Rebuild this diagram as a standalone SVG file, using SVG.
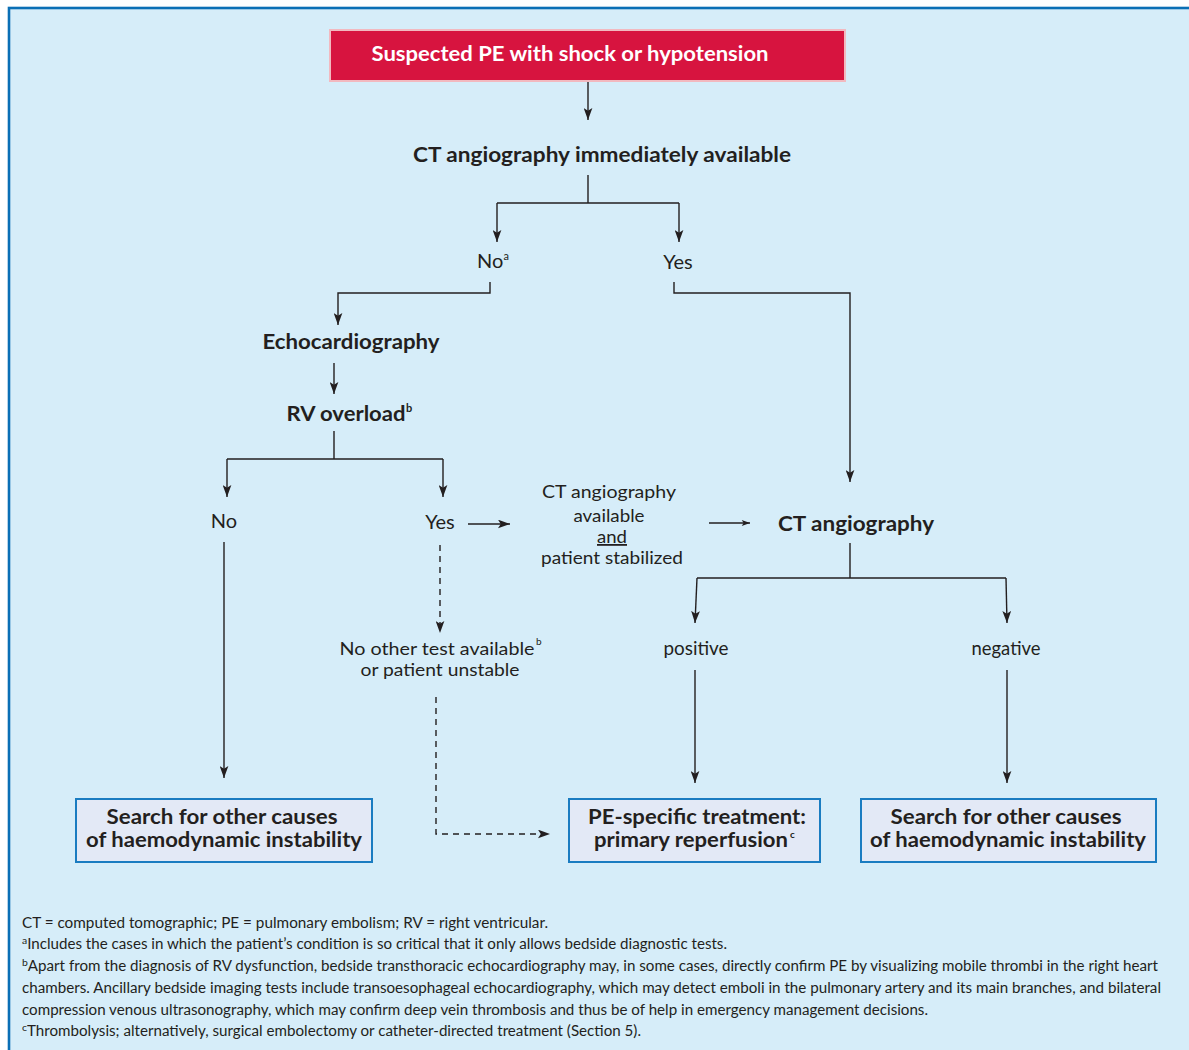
<svg xmlns="http://www.w3.org/2000/svg" width="1189" height="1050" viewBox="0 0 1189 1050">
<style>
text{font-family:Lato,"Open Sans","Liberation Sans",sans-serif;fill:#231f20}
.b{font-weight:bold;font-size:21px}
.r{font-size:20px}
.s{font-size:18px}
.bx{font-weight:bold;font-size:20px}
.f{font-size:14.5px}
.ln{fill:none;stroke:#231f20;stroke-width:1.4}
.ar{fill:none;stroke:#231f20;stroke-width:1.4;marker-end:url(#ah)}
.ds{fill:none;stroke:#231f20;stroke-width:1.4;stroke-dasharray:6 5}
.box{fill:#e3e9f6;stroke:#1a7cc1;stroke-width:2}
</style>
<defs>
<marker id="ah" viewBox="0 0 11 8" refX="11" refY="4" markerWidth="12" markerHeight="9" markerUnits="userSpaceOnUse" orient="auto">
<path d="M0,0 L11,4 L0,8 L2.5,4 z" fill="#231f20"/>
</marker>
<marker id="ahs" viewBox="0 0 11 8" refX="11" refY="4" markerWidth="9" markerHeight="6" markerUnits="userSpaceOnUse" orient="auto">
<path d="M0,0 L11,4 L0,8 L2.5,4 z" fill="#231f20"/>
</marker>
</defs>
<rect x="0" y="0" width="1189" height="1050" fill="#ffffff"/>
<rect x="9" y="8" width="1190" height="1060" fill="#d6edf9" stroke="#0a6fb5" stroke-width="2.6"/>

<g id="connectors">
<path class="ar" d="M588,81 V120"/>
<path class="ln" d="M588,175 V203 M497,203 H679"/>
<path class="ar" d="M497,203 V242"/>
<path class="ar" d="M679,203 V242"/>
<path class="ar" d="M490,282 V293 H338 V325"/>
<path class="ar" d="M674,282 V293 H850 V482"/>
<path class="ar" d="M334,363 V394"/>
<path class="ln" d="M334,431 V459 M227,459 H443"/>
<path class="ar" d="M227,459 V497"/>
<path class="ar" d="M443,459 V497"/>
<path class="ar" d="M468,524 H510"/>
<path class="ln" d="M709,523 H750" marker-end="url(#ahs)"/>
<path class="ln" d="M850,543 V578 M697,578 H1006"/>
<path class="ar" d="M697,578 L695,623"/>
<path class="ar" d="M1006,578 L1007,623"/>
<path class="ar" d="M695,670 V783"/>
<path class="ar" d="M1007,670 V783"/>
<path class="ar" d="M224,542 V778"/>
<path class="ds" d="M440,545 V633" marker-end="url(#ah)"/>
<path class="ds" d="M436,697 V834 H550" marker-end="url(#ah)"/>
</g>

<g id="start">
<rect x="330" y="30" width="515" height="51" fill="#d7143f" stroke="#f2b9c0" stroke-width="2"/>
<text x="570" y="61" class="bx" style="fill:#ffffff" text-anchor="middle" textLength="397" lengthAdjust="spacingAndGlyphs">Suspected PE with shock or hypotension</text>
</g>
<g id="ct-available">
<text x="602" y="162" class="b" text-anchor="middle" textLength="378" lengthAdjust="spacingAndGlyphs">CT angiography immediately available</text>
</g>
<g id="no1"><text x="493" y="268" class="r" text-anchor="middle">No<tspan font-size="11" dy="-8">a</tspan></text></g>
<g id="yes1"><text x="678" y="269" class="r" text-anchor="middle">Yes</text></g>
<g id="echo"><text x="351" y="349" class="b" text-anchor="middle" textLength="177" lengthAdjust="spacingAndGlyphs">Echocardiography</text></g>
<g id="rv"><text x="346" y="421" class="b" text-anchor="middle" textLength="119" lengthAdjust="spacingAndGlyphs">RV overload</text><text x="406" y="412" font-size="11" font-weight="bold">b</text></g>
<g id="no2"><text x="224" y="528" class="r" text-anchor="middle">No</text></g>
<g id="yes2"><text x="440" y="529" class="r" text-anchor="middle">Yes</text></g>
<g id="ct-stab">
<text x="609" y="498" class="s" text-anchor="middle" textLength="134" lengthAdjust="spacingAndGlyphs">CT angiography</text>
<text x="609" y="522" class="s" text-anchor="middle" textLength="71" lengthAdjust="spacingAndGlyphs">available</text>
<text x="612" y="543" class="s" text-anchor="middle" text-decoration="underline" textLength="30" lengthAdjust="spacingAndGlyphs">and</text>
<text x="612" y="564" class="s" text-anchor="middle" textLength="142" lengthAdjust="spacingAndGlyphs">patient stabilized</text>
</g>
<g id="ct"><text x="856" y="531" class="b" text-anchor="middle" textLength="156" lengthAdjust="spacingAndGlyphs">CT angiography</text></g>
<g id="unstable">
<text x="437" y="655" class="s" text-anchor="middle" textLength="195" lengthAdjust="spacingAndGlyphs">No other test available</text>
<text x="536" y="645" font-size="10">b</text>
<text x="440" y="676" class="s" text-anchor="middle" textLength="159" lengthAdjust="spacingAndGlyphs">or patient unstable</text>
</g>
<g id="positive"><text x="696" y="655" class="r" text-anchor="middle" textLength="65" lengthAdjust="spacingAndGlyphs">positive</text></g>
<g id="negative"><text x="1006" y="655" class="r" text-anchor="middle" textLength="69" lengthAdjust="spacingAndGlyphs">negative</text></g>
<g id="search-left">
<rect class="box" x="76" y="799" width="296" height="63"/>
<text x="222" y="824" class="bx" text-anchor="middle" textLength="231" lengthAdjust="spacingAndGlyphs">Search for other causes</text>
<text x="224" y="847" class="bx" text-anchor="middle" textLength="276" lengthAdjust="spacingAndGlyphs">of haemodynamic instability</text>
</g>
<g id="treatment">
<rect class="box" x="569" y="799" width="251" height="63"/>
<text x="697" y="824" class="bx" text-anchor="middle" textLength="218" lengthAdjust="spacingAndGlyphs">PE-specific treatment:</text>
<text x="691" y="847" class="bx" text-anchor="middle" textLength="194" lengthAdjust="spacingAndGlyphs">primary reperfusion</text>
<text x="790" y="838" font-size="10" font-weight="bold">c</text>
</g>
<g id="search-right">
<rect class="box" x="861" y="799" width="295" height="63"/>
<text x="1006" y="824" class="bx" text-anchor="middle" textLength="231" lengthAdjust="spacingAndGlyphs">Search for other causes</text>
<text x="1008" y="847" class="bx" text-anchor="middle" textLength="276" lengthAdjust="spacingAndGlyphs">of haemodynamic instability</text>
</g>

<g id="footnotes">
<text x="22" y="928" class="f" textLength="526" lengthAdjust="spacingAndGlyphs">CT = computed tomographic; PE = pulmonary embolism; RV = right ventricular.</text>
<text x="22" y="949" class="f" textLength="705" lengthAdjust="spacingAndGlyphs"><tspan font-size="10" dy="-5">a</tspan><tspan dy="5">Includes the cases in which the patient’s condition is so critical that it only allows bedside diagnostic tests.</tspan></text>
<text x="22" y="971" class="f" textLength="1136" lengthAdjust="spacingAndGlyphs"><tspan font-size="10" dy="-5">b</tspan><tspan dy="5">Apart from the diagnosis of RV dysfunction, bedside transthoracic echocardiography may, in some cases, directly confirm PE by visualizing mobile thrombi in the right heart</tspan></text>
<text x="22" y="993" class="f" textLength="1139" lengthAdjust="spacingAndGlyphs">chambers.  Ancillary bedside imaging tests include transoesophageal echocardiography, which may detect emboli in the pulmonary artery and its main branches, and bilateral</text>
<text x="22" y="1015" class="f" textLength="906" lengthAdjust="spacingAndGlyphs">compression venous ultrasonography, which may confirm deep vein thrombosis and thus be of help in emergency management decisions.</text>
<text x="22" y="1036" class="f" textLength="619" lengthAdjust="spacingAndGlyphs"><tspan font-size="10" dy="-5">c</tspan><tspan dy="5">Thrombolysis; alternatively, surgical embolectomy or catheter-directed treatment (Section 5).</tspan></text>
</g>
</svg>
